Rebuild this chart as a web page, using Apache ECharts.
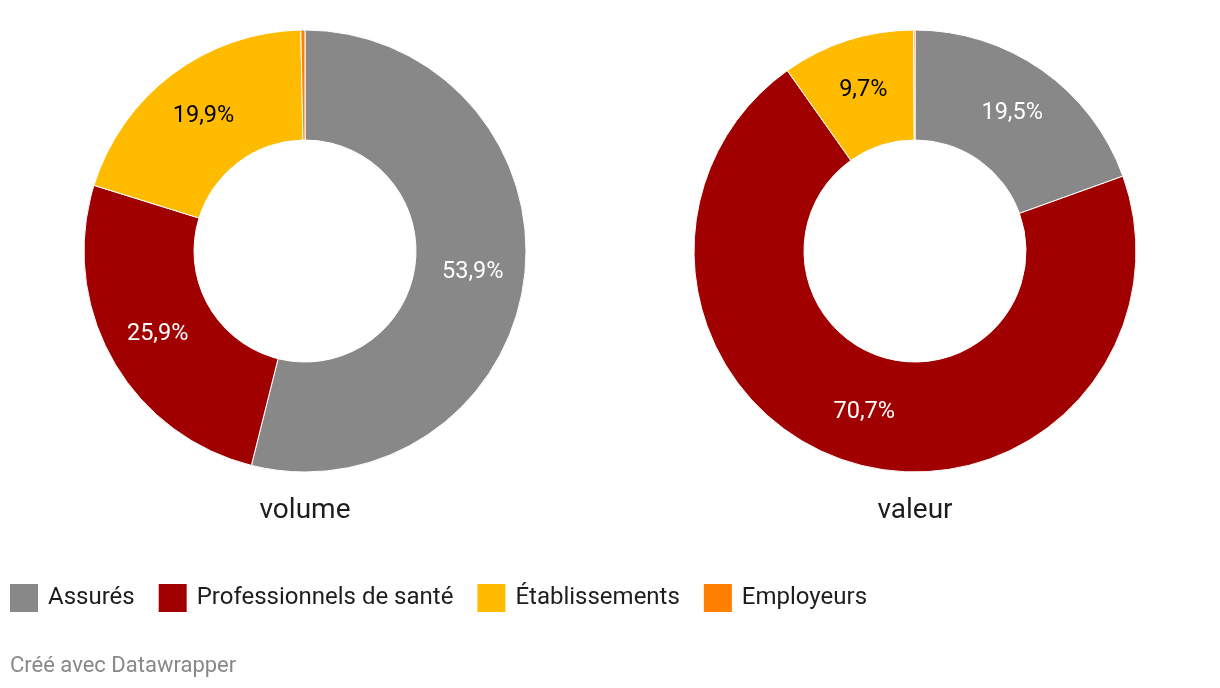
<!DOCTYPE html>
<html><head><meta charset="utf-8">
<script src="https://cdn.jsdelivr.net/npm/echarts@6/dist/echarts.min.js"></script>
<style>html,body{margin:0;padding:0;background:#fff}#c{width:1220px;height:688px}</style>
</head><body><div id="c"></div>
<script>
const categories = ['Assurés', 'Professionnels de santé', 'Établissements', 'Employeurs'];
const colors = ['#888888', '#a00000', '#ffbb00', '#ff7f00'];
const volumeValues = [53.9, 25.9, 19.9, 0.3];
const valeurValues = [19.5, 70.7, 9.7, 0.1];
const chartTitles = ['volume', 'valeur'];
const labelColors = ['#ffffff', '#ffffff', '#000000', '#000000'];

const chart = echarts.init(document.getElementById('c'));
function mk(vals, cx) {
  return {
    type: 'pie', center: [cx, 251], radius: [111, 221], startAngle: 90, clockwise: true,
    avoidLabelOverlap: false, animation: false,
    itemStyle: { borderColor: '#ffffff', borderWidth: 1 },
    label: { show: true, position: 'inside', fontFamily: 'Roboto', fontSize: 23.5, padding: [4, 0, 0, 0],
      formatter: p => p.value >= 1 ? p.value.toFixed(1).replace('.', ',') + '%' : '' },
    labelLine: { show: false },
    emphasis: { disabled: true },
    data: vals.map((v, i) => ({ name: categories[i], value: v,
      itemStyle: { color: colors[i] }, label: { color: labelColors[i] } }))
  };
}
chart.setOption({
  animation: false,
  title: [
    { text: chartTitles[0], left: 305, top: 497, padding: 0, textAlign: 'center', textStyle: { fontFamily: 'Roboto', fontSize: 28, fontWeight: 'normal', color: '#1d1d1d' } },
    { text: chartTitles[1], left: 915, top: 497, padding: 0, textAlign: 'center', textStyle: { fontFamily: 'Roboto', fontSize: 28, fontWeight: 'normal', color: '#1d1d1d' } },
    { text: 'Créé avec Datawrapper', left: 10, top: 655, padding: 0, textStyle: { fontFamily: 'Roboto', fontSize: 22, fontWeight: 'normal', color: '#888888' } }
  ],
  legend: {
    left: 10, top: 584, padding: 0, itemWidth: 28, itemHeight: 28, itemGap: 24, icon: 'rect',
    itemStyle: { borderWidth: 0 },
    data: categories,
    textStyle: { fontFamily: 'Roboto', fontSize: 24, color: '#1d1d1d', padding: [2, 0, 0, 5] },
    selectedMode: false
  },
  series: [mk(volumeValues, 305), mk(valeurValues, 915)]
});
</script></body></html>
